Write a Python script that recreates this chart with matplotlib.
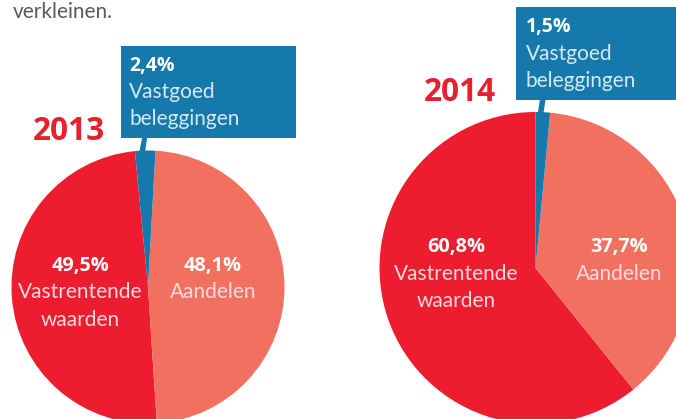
import matplotlib
matplotlib.use('Agg')
import matplotlib.pyplot as plt
from matplotlib.patches import Rectangle, Polygon
from matplotlib import font_manager

# ---- data ----
categories = ['Vastrentende waarden', 'Aandelen', 'Vastgoed beleggingen']
years = ['2013', '2014']
values_2013 = [49.5, 48.1, 2.4]
values_2014 = [60.8, 37.7, 1.5]
pct_labels_2013 = ['49,5%', '48,1%', '2,4%']
pct_labels_2014 = ['60,8%', '37,7%', '1,5%']
cat_lines = [['Vastrentende', 'waarden'], ['Aandelen'], ['Vastgoed', 'beleggingen']]
intro_text = 'verkleinen.'

colors = ['#ED1C2E', '#F17060', '#1679AC']
RED_TITLE = '#E8202E'

W, H = 676, 419
fig = plt.figure(figsize=(W / 100, H / 100), dpi=100)
ax = fig.add_axes([0, 0, 1, 1])


def py(y):
    return H - y


names = {f.name for f in font_manager.fontManager.ttflist}
LIGHT_FAM = 'Lato' if 'Lato' in names else 'Open Sans'
BOLD_FAM = 'Open Sans'

# pies
ax.pie(values_2013, colors=colors, startangle=95.5, counterclock=True,
       center=(148, py(287)), radius=136.5, wedgeprops=dict(linewidth=0))
ax.pie(values_2014, colors=colors, startangle=90, counterclock=True,
       center=(535.5, py(268)), radius=156, wedgeprops=dict(linewidth=0))

# callout boxes and connectors
ax.add_patch(Rectangle((121, py(138)), 175, 92, color=colors[2], lw=0, zorder=3))
ax.add_patch(Polygon([(142.3, py(137)), (147.3, py(137)), (145, py(152)), (139.3, py(152))],
                     closed=True, color=colors[2], lw=0, zorder=3))
ax.add_patch(Rectangle((516, py(100)), 170, 93, color=colors[2], lw=0, zorder=3))
ax.add_patch(Polygon([(540, py(99)), (545.7, py(99)), (543.3, py(114)), (537.7, py(114))],
                     closed=True, color=colors[2], lw=0, zorder=3))


def txt(x, y, s, size, bold, color, ha='left'):
    ax.text(x, py(y), s, fontsize=size,
            fontweight='bold' if bold else 'normal',
            family=BOLD_FAM if bold else LIGHT_FAM,
            color=color, ha=ha, va='baseline', zorder=5)


# intro text
txt(13, 18, intro_text, 15, False, '#5a5a5a')

# years
txt(33, 140, years[0], 22.8, True, RED_TITLE)
txt(424, 101, years[1], 22.8, True, RED_TITLE)

# box texts
BOXTXT = '#d6e8f2'
txt(129.3, 71, pct_labels_2013[2], 14, True, 'white')
txt(129.3, 98, cat_lines[2][0], 15, False, BOXTXT)
txt(129.3, 125, cat_lines[2][1], 15, False, BOXTXT)
txt(525.7, 32.3, pct_labels_2014[2], 14, True, 'white')
txt(525.7, 60, cat_lines[2][0], 15, False, BOXTXT)
txt(525.7, 87, cat_lines[2][1], 15, False, BOXTXT)

# pie labels
LBL = '#fcdadd'
for (cx, base, pct, lines) in [
    (80.5, 270.7, pct_labels_2013[0], cat_lines[0]),
    (213, 270.7, pct_labels_2013[1], cat_lines[1]),
    (456, 252.3, pct_labels_2014[0], cat_lines[0]),
    (619, 252.3, pct_labels_2014[1], cat_lines[1]),
]:
    txt(cx, base, pct, 14.3, True, 'white', ha='center')
    for i, ln in enumerate(lines):
        txt(cx, base + 27.5 * (i + 1), ln, 15, False, LBL, ha='center')

ax.set_xlim(0, W)
ax.set_ylim(0, H)
ax.set_aspect('equal')
ax.axis('off')
fig.savefig('out.png', dpi=100)
